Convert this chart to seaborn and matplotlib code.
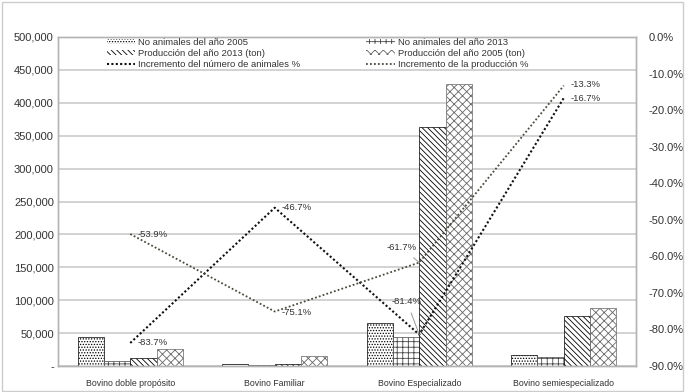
import numpy as np
import pandas as pd
import matplotlib
matplotlib.use('Agg')
import matplotlib.pyplot as plt
import matplotlib.ticker as mticker
from matplotlib.patches import Patch, Rectangle
from matplotlib.lines import Line2D
import seaborn as sns

# datos
categorias = ['Bovino doble propósito', 'Bovino Familiar', 'Bovino Especializado', 'Bovino semiespecializado']
animales_2005 = [44000, 3000, 65000, 17000]
animales_2013 = [7200, 1600, 44000, 14000]
produccion_2013 = [12000, 3700, 363000, 76000]
produccion_2005 = [26000, 15000, 429000, 88000]
inc_animales = [-83.7, -46.7, -81.4, -16.7]
inc_produccion = [-53.9, -75.1, -61.7, -13.3]

series = ['No animales del año 2005', 'No animales del año 2013',
          'Producción del año 2013 (ton)', 'Producción del año 2005 (ton)']
lineas = ['Incremento del número de animales %', 'Incremento de la producción %']

df = pd.DataFrame({
    'categoria': categorias * 4,
    'serie': [s for s in series for _ in categorias],
    'valor': animales_2005 + animales_2013 + produccion_2013 + produccion_2005,
})

sns.set_style('white')
plt.rcParams['font.family'] = ['Liberation Sans', 'DejaVu Sans']
plt.rcParams['hatch.linewidth'] = 0.6

hatches = ['......', '+++', '\\\\\\\\\\\\', 'xxxx']
hatch_colors = ['black', '#444444', 'black', '#666666']
grid_c = '#cfcfcf'
text_c = '#333333'
col_anim = '#111111'
col_prod = '#4a4a3e'
ls_anim = (0, (1, 1.1))
ls_prod = (0, (1, 1.2))

fig = plt.figure(figsize=(6.91, 3.92), dpi=100)
ax = fig.add_axes([58 / 691, 1 - 366 / 392, 578 / 691, 329 / 392])

sns.barplot(data=df, x='categoria', y='valor', hue='serie', order=categorias,
            hue_order=series, palette=['white'] * 4, saturation=1, width=0.73,
            linewidth=0.5, edgecolor='black', legend=False, ax=ax, zorder=2)
for cont, h, c in zip(ax.containers, hatches, hatch_colors):
    for bar in cont:
        bar.set_hatch(h)
        bar.set_edgecolor(c)

ax.set_ylim(0, 500000)
ax.set_yticks(np.arange(0, 500001, 50000))
ax.yaxis.set_major_formatter(mticker.FuncFormatter(lambda v, p: '-' if v == 0 else f'{v:,.0f}'))
ax.yaxis.grid(True, color=grid_c, lw=1.3)
ax.set_axisbelow(True)
ax.set_xlabel('')
ax.set_ylabel('')
ax.tick_params(axis='y', length=0, pad=3, labelsize=8, labelcolor=text_c)
ax.tick_params(axis='x', length=0, pad=9, labelsize=6.3, labelcolor=text_c)
for s in ax.spines.values():
    s.set_color('#b4b4b4')
    s.set_linewidth(1)

ax2 = ax.twinx()
xpos = np.arange(len(categorias))
ax2.plot(xpos, inc_animales, color=col_anim, lw=1.5, linestyle=ls_anim, zorder=3)
ax2.plot(xpos, inc_produccion, color=col_prod, lw=1.3, linestyle=ls_prod, zorder=3)
ax2.set_ylim(-90, 0)
ax2.set_yticks(np.arange(-90, 1, 10))
ax2.yaxis.set_major_formatter(mticker.FuncFormatter(lambda v, p: f'{v:.1f}%'))
ax2.tick_params(axis='y', length=0, pad=9, labelsize=8, labelcolor=text_c)
for s in ax2.spines.values():
    s.set_color('#b4b4b4')
    s.set_linewidth(1)
ax.set_xlim(-0.5, 3.5)

# etiquetas de datos
offsets_a = [(5, 0), (5, 0), (-9, 24), (5, 0)]
offsets_p = [(5, 0), (5, -1), (-13, 11), (5, 1)]
for vals, offs in [(inc_animales, offsets_a), (inc_produccion, offsets_p)]:
    for i, (v, off) in enumerate(zip(vals, offs)):
        lead = off[1] > 10
        ax2.annotate(f'{v:.1f}%', (i, v), xytext=off, textcoords='offset points',
                     ha='center' if lead else 'left', va='center', fontsize=6.8, color=text_c,
                     arrowprops=dict(arrowstyle='-', color='#999999', lw=0.7, shrinkA=3, shrinkB=0) if lead else None)

# leyenda
h_bars = [Patch(facecolor='white', edgecolor=c, hatch=h, lw=0) for h, c in zip(hatches, hatch_colors)]
h_lines = [Line2D([], [], color=col_anim, lw=1.5, linestyle=ls_anim),
           Line2D([], [], color=col_prod, lw=1.3, linestyle=ls_prod)]
handles = [h_bars[0], h_bars[2], h_lines[0], h_bars[1], h_bars[3], h_lines[1]]
labels = [series[0], series[2], lineas[0], series[1], series[3], lineas[1]]
ax2.legend(handles, labels, ncol=2, frameon=False, loc='upper left',
           bbox_to_anchor=(107 / 691, 1 - 38 / 392), bbox_transform=fig.transFigure,
           fontsize=6.8, handlelength=3.0, handleheight=0.5, handletextpad=0.3,
           labelspacing=0.2, columnspacing=7.0, borderaxespad=0, borderpad=0,
           labelcolor=text_c)

fig.patches.append(Rectangle((0.003, 0.003), 0.985, 0.992, transform=fig.transFigure,
                             fill=False, edgecolor='#cccccc', lw=1))

fig.savefig('out.png', dpi=100)
